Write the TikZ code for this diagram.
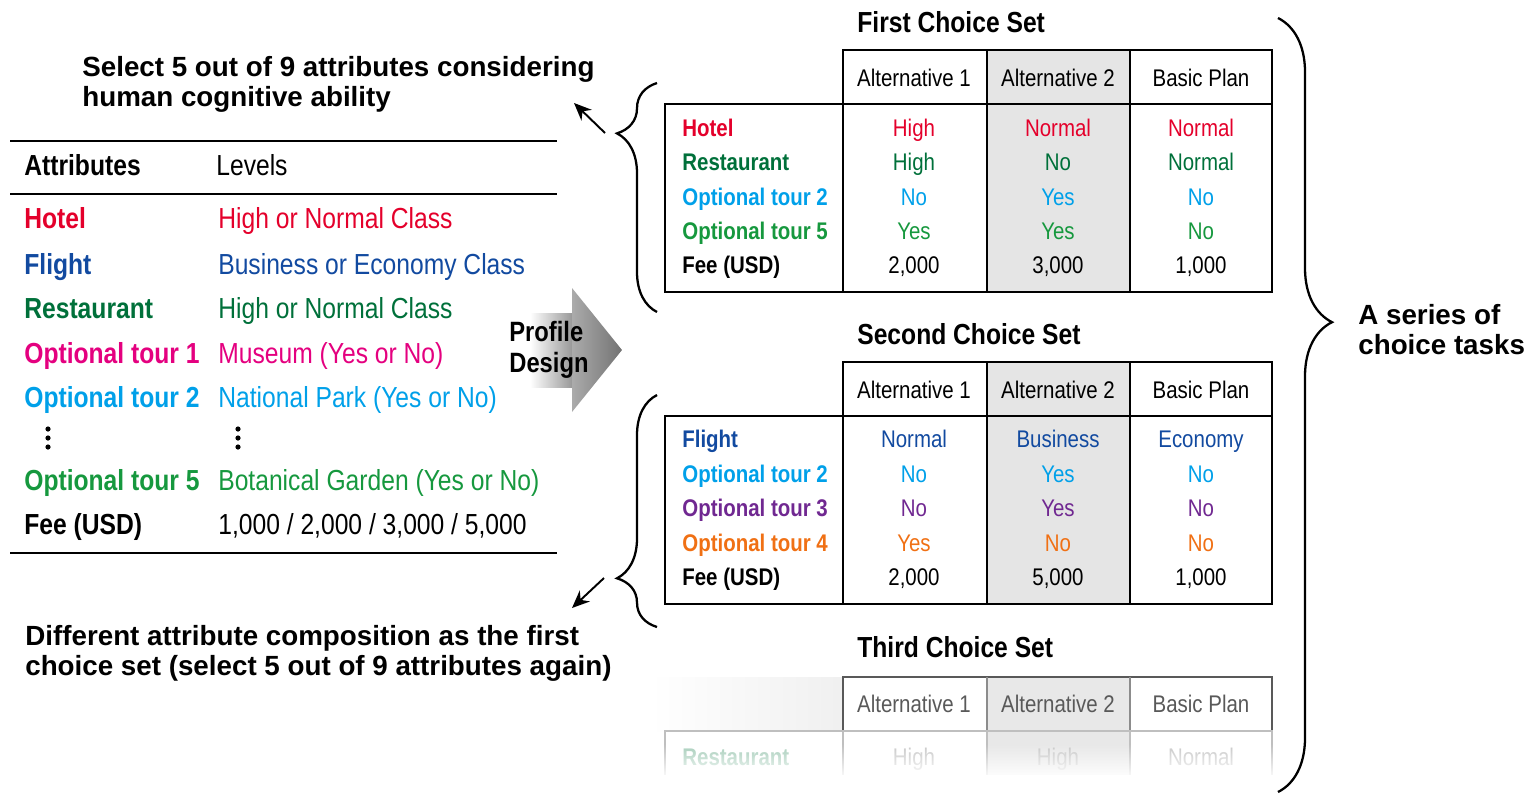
\documentclass[tikz,border=0pt]{standalone}
\usepackage{fontspec}
\setmainfont{Liberation Sans}
\newfontfamily\narrowfont{Liberation Sans}[FakeStretch=0.85]
\usetikzlibrary{arrows.meta,decorations.pathreplacing,fadings}
\definecolor{hotelred}{RGB}{228,0,43}
\definecolor{flightblue}{RGB}{18,74,160}
\definecolor{restgreen}{RGB}{0,112,58}
\definecolor{tourpink}{RGB}{228,0,127}
\definecolor{tourcyan}{RGB}{0,160,233}
\definecolor{tourgreen}{RGB}{22,152,62}
\definecolor{tourpurple}{RGB}{112,40,145}
\definecolor{tourorange}{RGB}{240,112,20}
\definecolor{altgray}{RGB}{229,229,229}
\tikzfading[name=fadedown, top color=transparent!100, bottom color=transparent!0]

\begin{document}
\begin{tikzpicture}[x=0.02cm,y=-0.02cm]
    \tikzset{
        note/.style={font=\bfseries\fontsize{15.8}{17.1}\selectfont, align=left, anchor=west, inner sep=0pt},
        attr/.style={font=\narrowfont\bfseries\fontsize{16.5}{19}\selectfont, anchor=west, inner sep=0pt, text height=11.8pt, text depth=0pt},
        level/.style={font=\narrowfont\fontsize{16.5}{19}\selectfont, anchor=west, inner sep=0pt, text height=11.8pt, text depth=0pt},
        settitle/.style={font=\narrowfont\bfseries\fontsize{16.5}{19}\selectfont, anchor=west, inner sep=0pt, text height=11.8pt, text depth=0pt},
        rowlab/.style={font=\narrowfont\bfseries\fontsize{13.7}{16}\selectfont, anchor=west, inner sep=0pt, text height=9.8pt, text depth=0pt},
        cell/.style={font=\narrowfont\fontsize{13.7}{16}\selectfont, inner sep=0pt, text height=9.8pt, text depth=0pt},
        tabline/.style={line width=1.5pt},
        rule/.style={line width=1.2pt},
        pointer/.style={line width=1.1pt, -{Stealth[length=10pt,width=8.5pt]}},
        bracket/.style={line width=1.3pt, decorate},
        choiceset/.pic={
            \fill[altgray] (322,0) rectangle (465,242);
            \draw[tabline] (178,0) rectangle (607,54);
            \draw[tabline] (0,54) rectangle (607,242);
            \draw[tabline] (178,54) -- (178,242) (322,0) -- (322,242) (465,0) -- (465,242);
            \foreach \h/\cx [count=\k] in {Alternative 1/249, Alternative 2/393, Basic Plan/536}
                \node[cell] (-h\k) at (\cx,28) {\h};
        }
    }
    \useasboundingbox (0,0) rectangle (1531,795);

    % attribute list
    \node[note] (select) at (82,84) {Select 5 out of 9 attributes considering\\human cognitive ability};
    \draw[rule] (10,141) -- (557,141);
    \node[attr] (atthead) at (24,165) {Attributes};
    \node[level] (levhead) at (216,165) {Levels};
    \draw[line width=0.6pt] (10,194) -- (557,194);
    \foreach \a/\col/\l/\y [count=\i] in {Hotel/hotelred/High or Normal Class/218,
            Flight/flightblue/Business or Economy Class/264,
            Restaurant/restgreen/High or Normal Class/308,
            Optional tour 1/tourpink/Museum (Yes or No)/353,
            Optional tour 2/tourcyan/National Park (Yes or No)/397,
            Optional tour 5/tourgreen/Botanical Garden (Yes or No)/480}{
        \node[attr, text=\col] (att\i) at (24,\y) {\a};
        \node[level, text=\col] (lev\i) at (218,\y) {\l};
    }
    \node[attr] (att7) at (24,524) {Fee (USD)};
    \node[level] (lev7) at (218,524) {1,000 / 2,000 / 3,000 / 5,000};
    \foreach \x in {48,238}{
        \foreach \y in {429,438,447}{
            \fill (\x,\y) circle (2.6);
        }
    }
    \draw[rule] (10,553) -- (557,553);

    % profile design arrow
    \shade[left color=white, right color=black!40] (530,313) rectangle (572,387);
    \shade[left color=black!33, right color=black!55] (572,288) -- (622,350) -- (572,412) -- cycle;
    \node[note, font=\narrowfont\bfseries\fontsize{15.9}{17.6}\selectfont] (profile) at (509,350) {Profile\\Design};

    % first choice set
    \node[settitle] (title1) at (857,22) {First Choice Set};
    \pic (set1) at (665,50) {choiceset};
    \foreach \lab/\col/\va/\vb/\vc [count=\i] in {Hotel/hotelred/High/Normal/Normal,
            Restaurant/restgreen/High/No/Normal,
            Optional tour 2/tourcyan/No/Yes/No,
            Optional tour 5/tourgreen/Yes/Yes/No,
            {Fee (USD)/black/2,000/3,000/1,000}}{
        \pgfmathsetmacro{\ry}{128+34.3*(\i-1)}
        \node[rowlab, text=\col] (s1r\i) at (682,\ry) {\lab};
        \node[cell, text=\col] (s1r\i a) at (914,\ry) {\va};
        \node[cell, text=\col] (s1r\i b) at (1058,\ry) {\vb};
        \node[cell, text=\col] (s1r\i c) at (1201,\ry) {\vc};
    }

    % second choice set
    \node[settitle] (title2) at (857,334) {Second Choice Set};
    \pic (set2) at (665,362) {choiceset};
    \foreach \lab/\col/\va/\vb/\vc [count=\i] in {Flight/flightblue/Normal/Business/Economy,
            Optional tour 2/tourcyan/No/Yes/No,
            Optional tour 3/tourpurple/No/Yes/No,
            Optional tour 4/tourorange/Yes/No/No,
            {Fee (USD)/black/2,000/5,000/1,000}}{
        \pgfmathsetmacro{\ry}{439+34.5*(\i-1)}
        \node[rowlab, text=\col] (s2r\i) at (682,\ry) {\lab};
        \node[cell, text=\col] (s2r\i a) at (914,\ry) {\va};
        \node[cell, text=\col] (s2r\i b) at (1058,\ry) {\vb};
        \node[cell, text=\col] (s2r\i c) at (1201,\ry) {\vc};
    }

    % third choice set, fading out
    \node[settitle] (title3) at (857,647) {Third Choice Set};
    \shade[left color=white, right color=black!6] (650,677) rectangle (843,731);
    \fill[black!9] (987,677) rectangle (1130,775);
    \draw[line width=1.2pt, black!65] (843,731) -- (843,677) -- (1272,677) -- (1272,731);
    \draw[line width=1pt, black!45] (843,731) -- (1272,731) (987,677) -- (987,731) (1130,677) -- (1130,731);
    \draw[line width=1pt, black!25] (665,775) -- (665,731) -- (1272,731) -- (1272,775)
        (843,731) -- (843,775) (987,731) -- (987,775) (1130,731) -- (1130,775);
    \foreach \h/\cx [count=\k] in {Alternative 1/914, Alternative 2/1058, Basic Plan/1201}
        \node[cell, text=black!65] (s3h\k) at (\cx,704) {\h};
    \node[rowlab, text=restgreen!35] (s3r1) at (682,757) {Restaurant};
    \node[cell, text=black!22] (s3r1a) at (914,757) {High};
    \node[cell, text=black!22] (s3r1b) at (1058,757) {High};
    \node[cell, text=black!22] (s3r1c) at (1201,757) {Normal};
    \fill[white, path fading=fadedown] (645,744) rectangle (1280,779);

    % braces and pointers
    \draw[bracket, decoration={brace, amplitude=0.8cm, aspect=0.78}] (657,312) -- (657,83);
    \draw[bracket, decoration={brace, amplitude=0.8cm, aspect=0.21}] (657,627) -- (657,395);
    \draw[bracket, decoration={brace, amplitude=1.08cm, aspect=0.393}] (1278,18) -- (1278,792);
    \coordinate (selfrom) at (605,133);
    \coordinate (selto) at (574,103);
    \draw[pointer] (selfrom) -- (selto);
    \coordinate (difffrom) at (604,578);
    \coordinate (diffto) at (572,608);
    \draw[pointer] (difffrom) -- (diffto);
    \node[note] (diff) at (25,653) {Different attribute composition as the first\\choice set (select 5 out of 9 attributes again)};
    \node[note] (series) at (1358,330) {A series of\\choice tasks};
\end{tikzpicture}
\end{document}
